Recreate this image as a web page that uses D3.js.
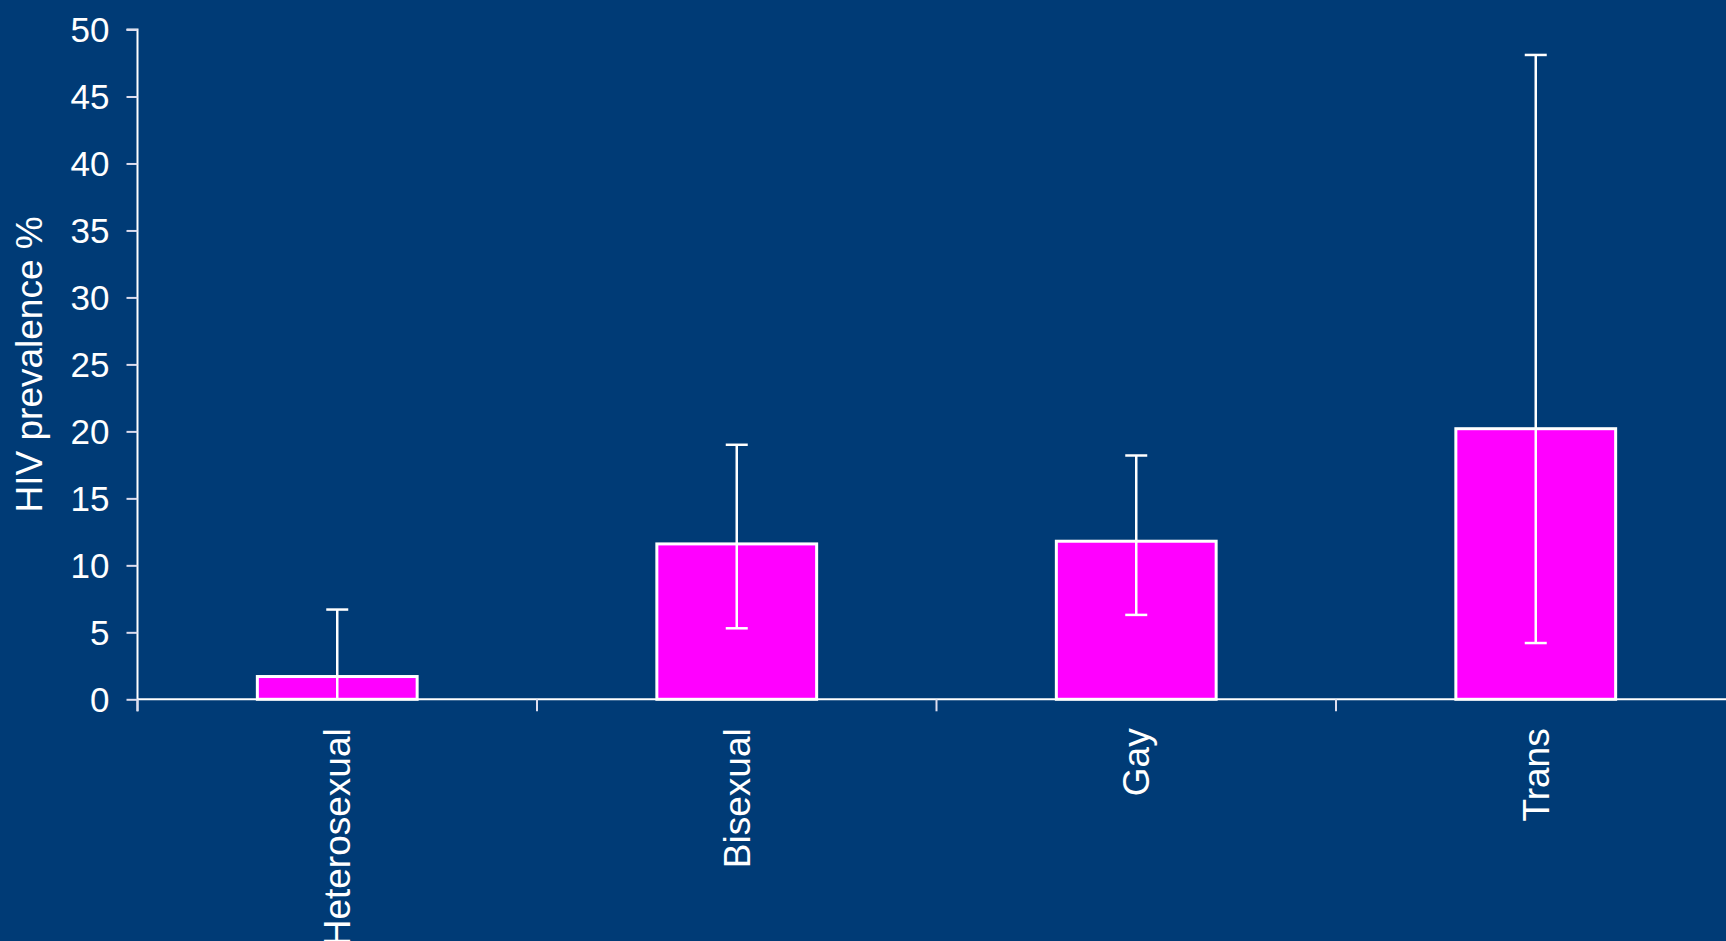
<!DOCTYPE html>
<html><head><meta charset="utf-8">
<script src="https://cdn.jsdelivr.net/npm/d3@7"></script>
<style>
html,body{margin:0;padding:0;background:#003b76;overflow:hidden;}
svg{display:block;}
text{font-family:"Liberation Sans",Arial,sans-serif;fill:#fff;}
</style></head>
<body>
<svg id="c" width="1726" height="941"></svg>
<script>
const categories = ["Heterosexual","Bisexual","Gay","Trans"];
const prevalence = [1.7, 11.6, 11.8, 20.2];
const ciLow = [0, 5.3, 6.3, 4.2];
const ciHigh = [6.7, 19.0, 18.2, 48.1];
const yTicks = [0,5,10,15,20,25,30,35,40,45,50];

const svg = d3.select("#c");
const x0 = 137.5, step = 399.5;
const x = d3.scaleBand().domain(categories).range([x0, x0 + step*categories.length]).paddingInner(0.6).paddingOuter(0.3);
const y = d3.scaleLinear().domain([0,50]).range([699.3, 29.5]);

// y axis
const yAxis = svg.append("g").attr("transform",`translate(${x0},0)`)
  .call(d3.axisLeft(y).tickValues(yTicks).tickSize(11).tickPadding(17));
yAxis.select(".domain").attr("stroke","#fff").attr("stroke-width",2).attr("d",`M-11,${y(50)}H0V${y(0)+12}`);
yAxis.selectAll(".tick line").attr("stroke","#dde").attr("stroke-width",2);
yAxis.selectAll(".tick text").attr("font-size",35).attr("fill","#fff").attr("dy","0.35em");

// x axis
const xAxis = svg.append("g").attr("transform",`translate(0,${y(0)})`);
xAxis.append("line").attr("x1",x0).attr("x2",1726).attr("y1",0).attr("y2",0).attr("stroke","#fff").attr("stroke-width",2);
categories.forEach((c,i)=>{
  const bx = x0 + i*step;
  xAxis.append("line").attr("x1",bx).attr("x2",bx).attr("y1",0).attr("y2",12).attr("stroke","#dde").attr("stroke-width",2);
});
xAxis.selectAll("text.cat").data(categories).enter().append("text")
  .attr("class","cat")
  .attr("transform",d=>`translate(${x(d)+x.bandwidth()/2},29) rotate(-90)`)
  .attr("text-anchor","end").attr("dy","0.35em").attr("font-size",37).text(d=>d);

// bars
const data = categories.map((c,i)=>({c, v:prevalence[i], lo:ciLow[i], hi:ciHigh[i]}));
svg.selectAll("rect.bar").data(data).enter().append("rect")
  .attr("x",d=>x(d.c)).attr("width",x.bandwidth())
  .attr("y",d=>y(d.v)).attr("height",d=>y(0)-y(d.v))
  .attr("fill","#ff00ff").attr("stroke","#fff").attr("stroke-width",3);

// error bars
const eb = svg.selectAll("g.err").data(data).enter().append("g");
eb.append("line").attr("x1",d=>x(d.c)+x.bandwidth()/2).attr("x2",d=>x(d.c)+x.bandwidth()/2)
  .attr("y1",d=>y(d.hi)).attr("y2",d=>y(d.lo)).attr("stroke","#fff").attr("stroke-width",2.5);
eb.append("line").attr("x1",d=>x(d.c)+x.bandwidth()/2-11).attr("x2",d=>x(d.c)+x.bandwidth()/2+11)
  .attr("y1",d=>y(d.hi)).attr("y2",d=>y(d.hi)).attr("stroke","#fff").attr("stroke-width",2.5);
eb.filter(d=>d.lo>0).append("line").attr("x1",d=>x(d.c)+x.bandwidth()/2-11).attr("x2",d=>x(d.c)+x.bandwidth()/2+11)
  .attr("y1",d=>y(d.lo)).attr("y2",d=>y(d.lo)).attr("stroke","#fff").attr("stroke-width",2.5);

// y title
svg.append("text").attr("transform",`translate(29,${y(25)}) rotate(-90)`)
  .attr("text-anchor","middle").attr("dy","0.35em").attr("font-size",37).text("HIV prevalence %");
</script>
</body></html>
